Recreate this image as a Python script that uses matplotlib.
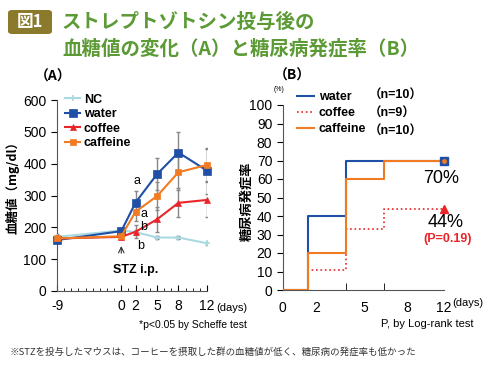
import matplotlib.pyplot as plt
from matplotlib.patches import FancyBboxPatch

plt.rcParams['font.family'] = ['Liberation Sans Narrow', 'Liberation Sans', 'Noto Sans CJK JP']
plt.rcParams['axes.unicode_minus'] = False

# (A) 血糖値
days = [-9, 0, 2, 5, 8, 12]
nc = [170, 190, 185, 168, 168, 150]
water = [160, 188, 278, 367, 435, 378]
coffee = [165, 170, 186, 225, 277, 286]
caffeine = [165, 172, 249, 298, 373, 396]
nc_err = [8, 8, 8, 6, 6, 5]
water_err = [10, 10, 35, 50, 65, 72]
coffee_err = [8, 8, 20, 40, 45, 55]
caffeine_err = [8, 8, 30, 45, 55, 50]

# (B) 発症率 (ステップ位置は図の目盛りに合わせた位置)
step_pos = [0, 1.86, 4.71, 7.56, 12]
water_rate = [0, 40, 70, 70, 70]
coffee_rate = [0, 11, 33, 44, 44]
caffeine_rate = [0, 20, 60, 70, 70]
b_label_pos = [0, 2.46, 6.07, 9.3, 12]
b_labels = ['0', '2', '5', '8', '12']
b_n = ['（n=10）', '（n=9）', '（n=10）']

C_NC = '#a9d9e2'
C_WATER = '#1f4fa6'
C_COFFEE = '#e8262a'
C_CAFF = '#f07b22'
GREEN = '#5b9a35'
JP = ['Noto Sans CJK JP']

fig = plt.figure(figsize=(4.9, 3.67), dpi=100)

# タイトル
fig.patches.append(FancyBboxPatch((8 / 490, 1 - 34 / 367), 44 / 490, 24 / 367,
                                  boxstyle='round,pad=0,rounding_size=0.008',
                                  transform=fig.transFigure, fc='#8c7a2c', ec='none'))
fig.text(30 / 490, 1 - 22 / 367, '図1', color='white', fontsize=12, fontweight='bold',
         ha='center', va='center', family=JP)
fig.text(62 / 490, 1 - 22 / 367, 'ストレプトゾトシン投与後の', color=GREEN, fontsize=14,
         fontweight='bold', ha='left', va='center', family=JP)
fig.text(62 / 490, 1 - 49 / 367, '血糖値の変化（A）と糖尿病発症率（B）', color=GREEN, fontsize=14,
         fontweight='bold', ha='left', va='center', family=JP)

# ---- (A)
ax = fig.add_axes([57 / 490, 76 / 367, 150 / 490, 191 / 367])
for y, e, c, m, ms, lbl in [(nc, nc_err, C_NC, '+', 5, 'NC'),
                            (water, water_err, C_WATER, 's', 6, 'water'),
                            (coffee, coffee_err, C_COFFEE, '^', 5, 'coffee'),
                            (caffeine, caffeine_err, C_CAFF, 's', 5, 'caffeine')]:
    ax.errorbar(days, y, yerr=e, fmt='none', ecolor='#888888', elinewidth=1,
                capsize=1.5, zorder=1)
    ax.plot(days, y, color=c, marker=m, markersize=ms, lw=1.5, label=lbl,
            clip_on=False, zorder=3, markeredgewidth=1.2 if m == '+' else 0.5)
ax.set_xlim(-9, 12)
ax.set_ylim(0, 600)
ax.set_xticks(days)
ax.set_xticks(range(-9, 13), minor=True)
ax.set_yticks(range(0, 601, 100))
ax.tick_params(axis='x', direction='in', length=4, labelsize=10, pad=6)
ax.tick_params(axis='x', which='minor', direction='in', length=2)
ax.tick_params(axis='y', direction='out', length=4, labelsize=10)
for s in ['top', 'right']:
    ax.spines[s].set_visible(False)
for s in ['left', 'bottom']:
    ax.spines[s].set_color('#555555')
ax.set_ylabel('血糖値（mg/dl）', fontsize=9, fontweight='bold', family=JP)
ax.yaxis.set_label_coords(-0.25, 0.56)
ax.legend(loc='upper left', bbox_to_anchor=(0.02, 1.06), frameon=False,
          prop={'size': 9, 'weight': 'bold'}, handlelength=1.2, handletextpad=0.3,
          labelspacing=0.2, borderaxespad=0)
ax.text(13.3, -53, '(days)', fontsize=8, ha='left', va='center')
ax.text(-9.6, 674, '（A）', fontsize=10, fontweight='bold', ha='center', va='center',
        family=JP)
ax.text(2.25, 344, 'a', fontsize=9, ha='center', va='center')
ax.text(3.2, 241, 'a', fontsize=9, ha='center', va='center')
ax.text(3.2, 202, 'b', fontsize=9, ha='center', va='center')
ax.text(2.7, 142, 'b', fontsize=9, ha='center', va='center')
ax.annotate('', xy=(0, 150), xytext=(0, 110),
            arrowprops=dict(arrowstyle='->', lw=0.8, color='#333333'))
ax.text(-1.2, 66, 'STZ i.p.', fontsize=9, fontweight='bold', ha='left', va='center')
ax.text(17.6, -107, '*p<0.05 by Scheffe test', fontsize=7.5, ha='right', va='center')

# ---- (B)
bx = fig.add_axes([282.7 / 490, 77 / 367, 161.3 / 490, 185 / 367])
bx.step(step_pos, water_rate, where='post', color=C_WATER, lw=1.5, label='water',
        zorder=2)
bx.step(step_pos, coffee_rate, where='post', color=C_COFFEE, lw=1.2, ls=':',
        label='coffee', zorder=3)
bx.step(step_pos, caffeine_rate, where='post', color=C_CAFF, lw=1.5, label='caffeine',
        zorder=4)
bx.plot(step_pos[-1], water_rate[-1], marker='s', color=C_WATER, ms=6, clip_on=False,
        zorder=5)
bx.plot(step_pos[-1], caffeine_rate[-1], marker='o', color=C_CAFF, ms=2.5,
        clip_on=False, zorder=6)
bx.plot(step_pos[-1], coffee_rate[-1], marker='^', color=C_COFFEE, ms=6,
        clip_on=False, zorder=6)
bx.set_xlim(0, 12)
bx.set_ylim(0, 100)
bx.set_yticks(range(0, 101, 10))
bx.set_xticks(b_label_pos)
bx.set_xticklabels(b_labels)
bx.set_xticks([step_pos[2], step_pos[3], step_pos[4]], minor=True)
bx.tick_params(axis='x', length=0, labelsize=10, pad=8)
bx.tick_params(axis='x', which='minor', direction='in', length=5)
bx.tick_params(axis='y', direction='out', length=4, labelsize=10)
for s in ['top', 'right']:
    bx.spines[s].set_visible(False)
for s in ['left', 'bottom']:
    bx.spines[s].set_color('#555555')
bx.set_ylabel('糖尿病発症率', fontsize=9.5, fontweight='bold', family=JP)
bx.yaxis.set_label_coords(-0.18, 0.48)
bx.legend(['water', 'coffee', 'caffeine'], loc='upper left',
          bbox_to_anchor=(0.06, 1.1), frameon=False,
          prop={'size': 9, 'weight': 'bold'}, handlelength=1.3,
          handletextpad=0.4, labelspacing=0.3, borderaxespad=0)
for i, n in enumerate(b_n):
    bx.text(6.4, 105.2 - i * 9.9, n, fontsize=9, fontweight='bold', ha='left',
            va='center')
bx.text(0.7, 116, '（B）', fontsize=10, fontweight='bold', ha='center', va='center',
        family=JP)
bx.text(-0.3, 108.6, '(%)', fontsize=5, ha='center', va='center')
bx.text(11.8, 60.4, '70%', fontsize=13, ha='center', va='center')
bx.text(12.1, 36.4, '44%', fontsize=13, ha='center', va='center')
bx.text(12.3, 27.4, '(P=0.19)', fontsize=9, color=C_COFFEE, fontweight='bold',
        ha='center', va='center')
bx.text(12.6, -7, '(days)', fontsize=8, ha='left', va='center')
bx.text(14.2, -18.6, 'P, by Log-rank test', fontsize=8, ha='right', va='center')

fig.text(10 / 490, 1 - 352 / 367,
         '※STZを投与したマウスは、コーヒーを摂取した群の血糖値が低く、糖尿病の発症率も低かった',
         fontsize=6.8, color='#333333', ha='left', va='center', family=JP)

fig.savefig('out.png', dpi=100)
